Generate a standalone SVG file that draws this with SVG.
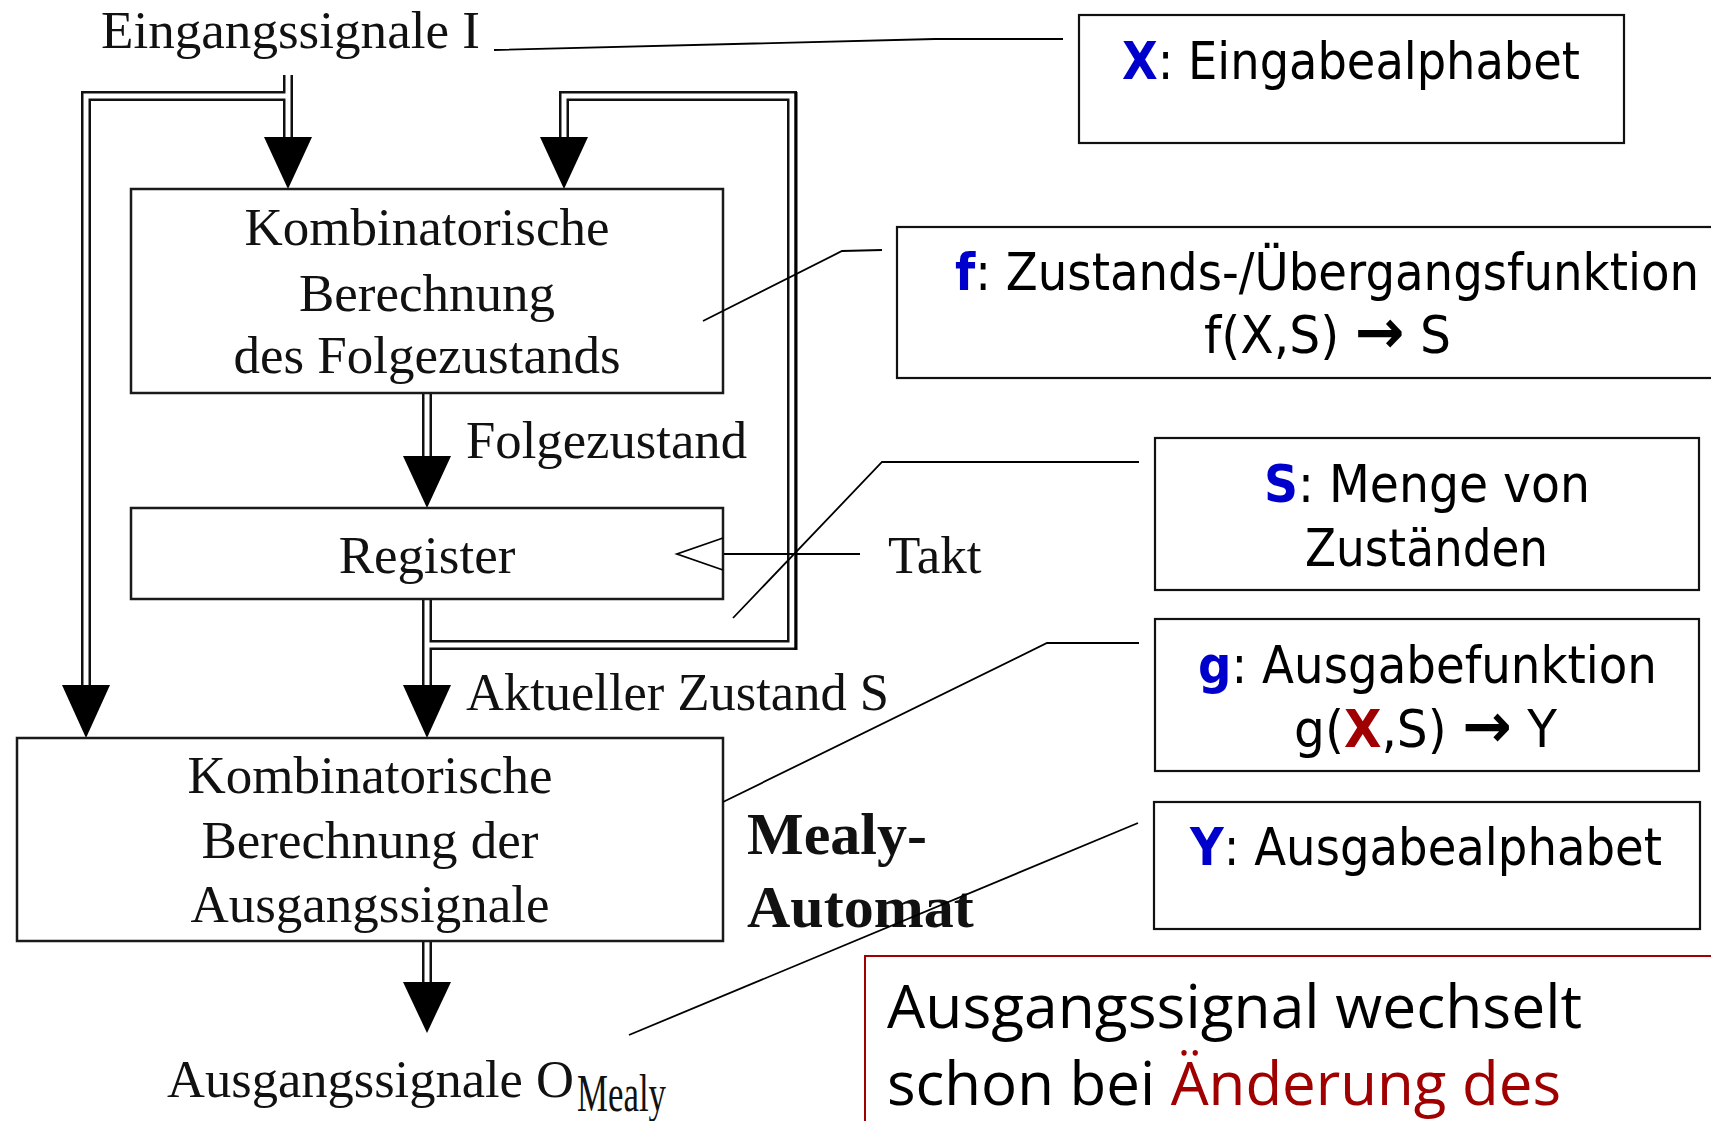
<svg xmlns="http://www.w3.org/2000/svg" width="1711" height="1121" viewBox="0 0 1711 1121">
  <style>
    .serif { font-family: "Liberation Serif", "Times New Roman", serif; font-size: 53px; fill: #111; }
    .serif-b { font-family: "Liberation Serif", "Times New Roman", serif; font-size: 60px; font-weight: bold; fill: #111; }
    .sans { font-family: "DejaVu Sans", Verdana, sans-serif; font-size: 51px; fill: #000; }
    .note { font-family: "Open Sans", "Noto Sans", sans-serif; font-size: 60px; fill: #000; }
    .key { font-weight: bold; fill: #0000cc; }
    .red { fill: #a00000; }
    .redkey { font-weight: bold; fill: #a00000; }
    .arrow { font-weight: bold; font-size: 62px; }
    .block { fill: #fff; stroke: #1a1a1a; stroke-width: 2.5; }
    .infobox { fill: #fff; stroke: #111; stroke-width: 2.2; }
    .bus-outer { fill: none; stroke: #111; stroke-width: 10; stroke-linejoin: miter; }
    .bus-inner { fill: none; stroke: #fff; stroke-width: 5; stroke-linejoin: miter; }
    .head { fill: #000; }
    .thin { fill: none; stroke: #000; stroke-width: 1.8; }
  </style>

  <rect width="1711" height="1121" fill="#fff"/>

  <!-- double-line buses -->
  <g id="connectors">
    <path class="bus-outer" d="M288,75 V137 M288,96 H86 V685 M427,599 V685 M427,645 H792 V96 H564 V137 M427,393 V456 M427,941 V983"/>
    <path class="bus-inner" d="M288,75 V137 M288,96 H86 V685 M427,599 V685 M427,645 H792 V96 H564 V137 M427,393 V456 M427,941 V983"/>
    <line x1="796" y1="92" x2="796" y2="650" stroke="#000" stroke-width="3"/>
    <polygon class="head" points="264,137 312,137 288,189"/>
    <polygon class="head" points="540,137 588,137 564,189"/>
    <polygon class="head" points="403,456 451,456 427,508"/>
    <polygon class="head" points="403,685 451,685 427,738"/>
    <polygon class="head" points="62,685 110,685 86,738"/>
    <polygon class="head" points="403,982 451,982 427,1033"/>
    <!-- clock input -->
    <line class="thin" x1="723" y1="554" x2="860" y2="554"/>
  </g>

  <g id="input-label">
    <text class="serif" x="101" y="48" textLength="379" lengthAdjust="spacingAndGlyphs">Eingangssignale I</text>
  </g>

  <g id="next-state-logic">
    <rect class="block" x="131" y="189" width="592" height="204"/>
    <text class="serif" x="427" y="245" text-anchor="middle">Kombinatorische</text>
    <text class="serif" x="427" y="311" text-anchor="middle">Berechnung</text>
    <text class="serif" x="427" y="373" text-anchor="middle">des Folgezustands</text>
  </g>

  <g id="next-state-label">
    <text class="serif" x="466" y="458" textLength="281" lengthAdjust="spacingAndGlyphs">Folgezustand</text>
  </g>

  <g id="register">
    <rect class="block" x="131" y="508" width="592" height="91"/>
    <text class="serif" x="427" y="573" text-anchor="middle">Register</text>
    <polyline class="thin" points="723,538 677,554 723,570"/>
  </g>

  <g id="clock-label">
    <text class="serif" x="888" y="573">Takt</text>
  </g>

  <g id="state-label">
    <text class="serif" x="466" y="710" textLength="423" lengthAdjust="spacingAndGlyphs">Aktueller Zustand S</text>
  </g>

  <g id="output-logic">
    <rect class="block" x="17" y="738" width="706" height="203"/>
    <text class="serif" x="370" y="793" text-anchor="middle">Kombinatorische</text>
    <text class="serif" x="370" y="858" text-anchor="middle">Berechnung der</text>
    <text class="serif" x="370" y="922" text-anchor="middle">Ausgangssignale</text>
  </g>

  <g id="automaton-title">
    <text class="serif-b" x="747" y="854">Mealy-</text>
    <text class="serif-b" x="747" y="927">Automat</text>
  </g>

  <g id="output-label">
    <text class="serif" x="167" y="1097" textLength="407" lengthAdjust="spacingAndGlyphs">Ausgangssignale O</text>
    <text class="serif" x="577" y="1111" font-size="35" textLength="89" lengthAdjust="spacingAndGlyphs">Mealy</text>
  </g>

  <!-- definition boxes -->
  <g id="box-x">
    <rect class="infobox" x="1079" y="15" width="545" height="128"/>
    <text class="sans" x="1122" y="79" textLength="458" lengthAdjust="spacingAndGlyphs"><tspan class="key">X</tspan>: Eingabealphabet</text>
  </g>

  <g id="box-f">
    <rect class="infobox" x="897" y="227" width="900" height="151"/>
    <text class="sans" x="955" y="290" textLength="744" lengthAdjust="spacingAndGlyphs"><tspan class="key">f</tspan>: Zustands-/Übergangsfunktion</text>
    <text class="sans" x="1204" y="353" textLength="247" lengthAdjust="spacingAndGlyphs">f(X,S) <tspan class="arrow">→</tspan> S</text>
  </g>

  <g id="box-s">
    <rect class="infobox" x="1155" y="438" width="544" height="152"/>
    <text class="sans" x="1264" y="502" textLength="326" lengthAdjust="spacingAndGlyphs"><tspan class="key">S</tspan>: Menge von</text>
    <text class="sans" x="1305" y="566" textLength="243" lengthAdjust="spacingAndGlyphs">Zuständen</text>
  </g>

  <g id="box-g">
    <rect class="infobox" x="1155" y="619" width="544" height="152"/>
    <text class="sans" x="1198" y="683" textLength="459" lengthAdjust="spacingAndGlyphs"><tspan class="key">g</tspan>: Ausgabefunktion</text>
    <text class="sans" x="1294" y="747" textLength="263" lengthAdjust="spacingAndGlyphs">g(<tspan class="redkey">X</tspan>,S) <tspan class="arrow">→</tspan> Y</text>
  </g>

  <g id="box-y">
    <rect class="infobox" x="1154" y="802" width="546" height="127"/>
    <text class="sans" x="1190" y="865" textLength="472" lengthAdjust="spacingAndGlyphs"><tspan class="key">Y</tspan>: Ausgabealphabet</text>
  </g>

  <g id="note">
    <rect x="865" y="956" width="900" height="300" fill="#fff" stroke="#a00000" stroke-width="2"/>
    <text class="note" x="887" y="1028" textLength="695" lengthAdjust="spacingAndGlyphs">Ausgangssignal wechselt</text>
    <text class="note" x="887" y="1105" textLength="674" lengthAdjust="spacingAndGlyphs">schon bei <tspan class="red">Änderung des</tspan></text>
  </g>

  <!-- pointer lines from the definitions into the circuit -->
  <g id="pointers">
    <polyline class="thin" points="494,50 935,39 1063,39"/>
    <polyline class="thin" points="703,321 842,251 882,250"/>
    <polyline class="thin" points="733,618 882,462 1139,462"/>
    <polyline class="thin" points="723,802 1047,643 1139,643"/>
    <line class="thin" x1="629" y1="1035" x2="1138" y2="823"/>
  </g>
</svg>
